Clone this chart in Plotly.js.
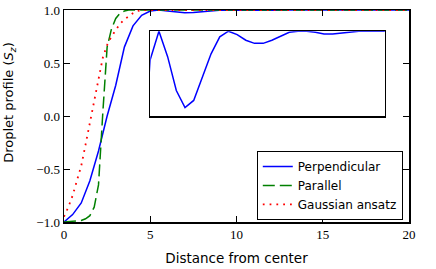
<!DOCTYPE html>
<html>
<head>
<meta charset="utf-8">
<script src="https://cdn.plot.ly/plotly-3.0.1.min.js"></script>
<style>html,body{margin:0;padding:0;background:#fff;}#chart{width:436px;height:269px;}</style>
</head>
<body>
<div id="chart"></div>
<script>
// Perpendicular profile (step 0.5)
const xPerp = [0,0.5,1,1.5,2,2.5,3,3.5,4,4.5,5,5.5,6,6.5,7,7.5,8,8.5,9,9.5,10,10.5,11,11.5,12,12.5,13,13.5,14,14.5,15,15.5,16,16.5,17,17.5,18,18.5,19,19.5,20];
const yPerp = [-1.0,-0.93,-0.82,-0.61,-0.33,0.0,0.29,0.65,0.85,0.95,0.990,1.000,0.991,0.979,0.973,0.9755,0.984,0.992,0.998,1.000,0.9988,0.9968,0.9957,0.9957,0.9968,0.9982,0.9996,1.0,1.0,0.9996,0.999,0.999,0.9994,0.9998,1.0,1.0,1.0,1.0,1.0,1.0,1.0];
// Parallel profile
const xPar = [0,0.25,0.5,0.75,1,1.25,1.5,1.75,2,2.25,2.5,2.75,3,3.25,3.5,3.75,4,5,10,15,20];
const yPar = [-1.0,-0.998,-0.995,-0.99,-0.985,-0.97,-0.94,-0.86,-0.65,0.03,0.65,0.82,0.92,0.97,0.99,1.0,1.0,1.0,1.0,1.0,1.0];
// Gaussian ansatz
const xGau = [0,0.25,0.5,0.75,1,1.25,1.5,1.75,2,2.25,2.5,2.75,3,3.25,3.5,3.75,4,4.25,4.5,5,10,15,20];
const yGau = [-0.95,-0.86,-0.75,-0.62,-0.47,-0.27,-0.06,0.14,0.37,0.55,0.67,0.75,0.81,0.87,0.91,0.94,0.97,0.99,1.0,1.0,1.0,1.0,1.0];

const names = ["Perpendicular","Parallel","Gaussian ansatz"];
const xTicks = [0,5,10,15,20];
const yTicks = [-1.0,-0.5,0.0,0.5,1.0];
const xLabel = "Distance from center";
const yLabel = "Droplet profile (<i>S<sub>z</sub></i>)";

const tickFont = {family:"Liberation Serif, DejaVu Serif, serif", size:13, color:"#000"};
const labelFont = {family:"DejaVu Sans, sans-serif", size:13.5, color:"#000"};
const legendFont = {family:"DejaVu Sans, sans-serif", size:12, color:"#000"};

const traces = [
  {x:xPerp, y:yPerp, name:names[0], mode:"lines", line:{color:"#0000ff", width:1.5}},
  {x:xPar, y:yPar, name:names[1], mode:"lines", line:{color:"#008000", width:1.5, dash:"12px,5px"}},
  {x:xGau, y:yGau, name:names[2], mode:"lines", line:{color:"#ff0000", width:1.8, dash:"1.8px,5px"}},
  {x:xPerp, y:yPerp, xaxis:"x2", yaxis:"y2", mode:"lines", showlegend:false, line:{color:"#0000ff", width:1.5}}
];

const axBase = {showline:true, linecolor:"#000", linewidth:1.5, mirror:"ticks", ticks:"inside", ticklen:6, tickwidth:1, tickcolor:"#000", showgrid:false, zeroline:false, tickfont:tickFont};

const layout = {
  width:436, height:269,
  margin:{l:64, r:27, t:10, b:47},
  paper_bgcolor:"#fff", plot_bgcolor:"#fff",
  showlegend:true,
  xaxis:Object.assign({}, axBase, {range:[0,20], tickvals:xTicks, ticktext:xTicks.map(String), domain:[0,1],
    title:{text:xLabel, font:labelFont, standoff:12}}),
  yaxis:Object.assign({}, axBase, {range:[-1,1], tickvals:yTicks, tickformat:".1f", domain:[0,1]}),
  xaxis2:{domain:[0.25,0.93], anchor:"y2", range:[5,18.5], showline:true, mirror:true, linecolor:"#000", linewidth:1.5, showticklabels:false, ticks:"", showgrid:false, zeroline:false},
  yaxis2:{domain:[0.5,0.9], anchor:"x2", range:[0.97,1.0], showline:true, mirror:true, linecolor:"#000", linewidth:1.5, showticklabels:false, ticks:"", showgrid:false, zeroline:false},
  annotations:[{text:yLabel, textangle:-90, xref:"paper", yref:"paper", x:-0.16, y:0.566, xanchor:"center", yanchor:"middle", showarrow:false, font:Object.assign({}, labelFont, {size:13})}],
  legend:{x:0.982, y:0.01, xanchor:"right", yanchor:"bottom", bgcolor:"#fff", bordercolor:"#000", borderwidth:1,
    font:legendFont, itemwidth:30, tracegroupgap:0}
};

Plotly.newPlot("chart", traces, layout, {staticPlot:true, displayModeBar:false});
</script>
</body>
</html>
